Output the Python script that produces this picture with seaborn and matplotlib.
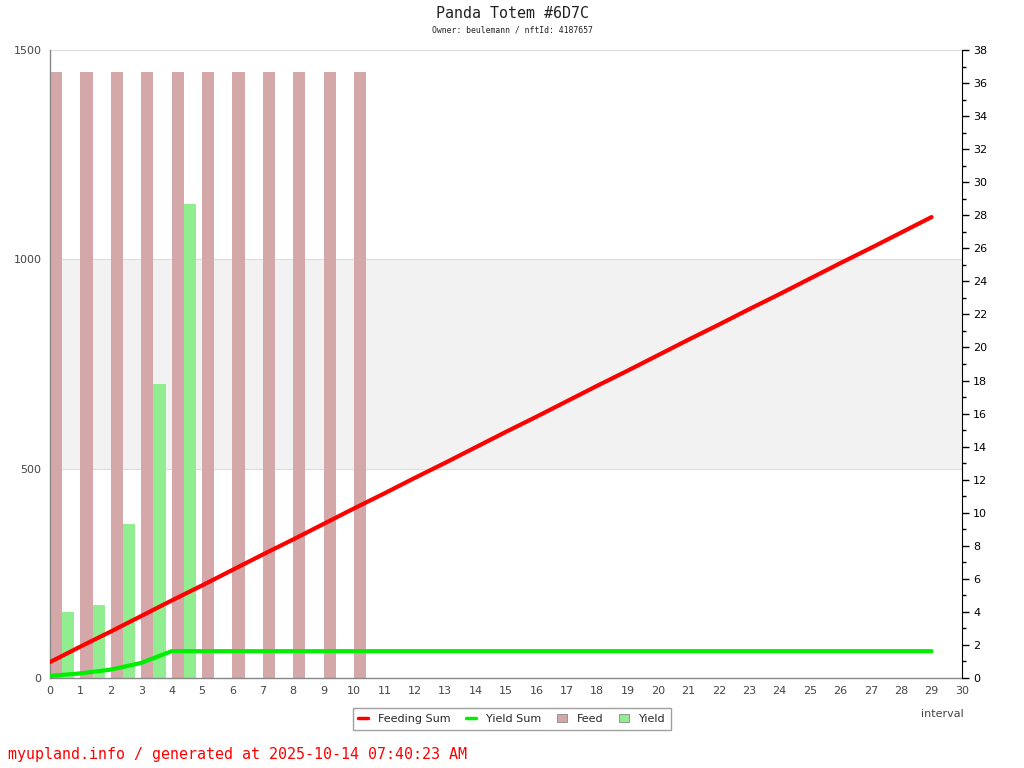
import matplotlib
matplotlib.use("Agg")
import matplotlib.pyplot as plt
import seaborn as sns
import numpy as np
import pandas as pd
from matplotlib.lines import Line2D
from matplotlib.patches import Patch

# data
intervals = list(range(30))
feeding_sum = [38, 75, 111, 148, 185, 221, 258, 295, 331, 368, 405, 441, 478, 514, 551,
               588, 624, 661, 698, 734, 771, 808, 844, 881, 917, 954, 991, 1027, 1064, 1101]
yield_sum = [5, 11, 20, 36, 64] + [64] * 25
feed_x = list(range(11))
feed = [1447] * 11
yield_x = [0, 1, 2, 3, 4]
yield_vals = [158, 174, 368, 702, 1132]

sns.set_style("white")
plt.rcParams['font.family'] = ['DejaVu Sans']

fig = plt.figure(figsize=(10.24, 7.68), dpi=100)
ax = fig.add_axes([50 / 1024, 1 - 678 / 768, 912 / 1024, 628 / 768])

# band 500..1000
ax.axhspan(500, 1000, color="#f2f2f2", zorder=0, lw=0)
for yv in (500, 1000, 1500):
    ax.axhline(yv, color="#dddddd", lw=0.8, zorder=0.5)

ax.bar(feed_x, feed, width=0.4, align="edge", color="#d4a8a8", lw=0, zorder=1)
ax.bar(np.array(yield_x) + 0.4, yield_vals, width=0.4, align="edge", color="#90ee90", lw=0, zorder=1)

df = pd.DataFrame({"interval": intervals, "Feeding Sum": feeding_sum, "Yield Sum": yield_sum})
sns.lineplot(data=df, x="interval", y="Feeding Sum", color="#ff0000", lw=3, ax=ax, zorder=3)
sns.lineplot(data=df, x="interval", y="Yield Sum", color="#00ee00", lw=3, ax=ax, zorder=3)

ax.set_xlim(0, 30)
ax.set_ylim(0, 1500)
ax.set_xticks(range(31))
ax.set_yticks([0, 500, 1000, 1500])
ax.tick_params(axis="both", length=0, labelsize=8, labelcolor="#444444", pad=6)
ax.set_ylabel("")
ax.set_xlabel("")
for s in ("top", "right"):
    ax.spines[s].set_visible(False)
for s in ("left", "bottom"):
    ax.spines[s].set_color("#888888")
    ax.spines[s].set_linewidth(1)

ax2 = ax.twinx()
ax2.set_ylim(0, 38)
ax2.set_yticks(range(0, 39, 2))
ax2.set_yticks(range(1, 38, 2), minor=True)
ax2.tick_params(axis="y", which="major", length=5, width=1, labelsize=8, colors="black", pad=3)
ax2.tick_params(axis="y", which="minor", length=3, width=1, colors="black")
for s in ("top", "left", "bottom"):
    ax2.spines[s].set_visible(False)
ax2.spines["right"].set_color("black")

fig.text(942 / 1024, 1 - 714 / 768, "interval", ha="center", va="center", fontsize=8, color="#444444")

handles = [Line2D([], [], color="#ff0000", lw=2.5),
           Line2D([], [], color="#00ee00", lw=2.5),
           Patch(facecolor="#d4a8a8", edgecolor="#888888", lw=0.6),
           Patch(facecolor="#90ee90", edgecolor="#888888", lw=0.6)]
leg = fig.legend(handles, ["Feeding Sum", "Yield Sum", "Feed", "Yield"], loc="center",
                 bbox_to_anchor=(512 / 1024, 1 - 719 / 768), ncol=4, fontsize=8,
                 frameon=True, fancybox=False, handlelength=0.9, handleheight=0.8,
                 columnspacing=1.4, handletextpad=0.9, borderpad=0.5)
leg.get_frame().set_edgecolor("#888888")
leg.get_frame().set_linewidth(1)

fig.text(0.5, 1 - 14 / 768, "Panda Totem #6D7C", ha="center", va="center",
         fontsize=10.8, family="DejaVu Sans Mono", color="#222222")
fig.text(0.5, 1 - 30 / 768, "Owner: beulemann / nftId: 4187657", ha="center", va="center",
         fontsize=5.9, family="DejaVu Sans Mono", color="#222222")
fig.text(8 / 1024, 1 - 754 / 768, "myupland.info / generated at 2025-10-14 07:40:23 AM",
         ha="left", va="center", fontsize=10.8, family="DejaVu Sans Mono", color="#ff0000")

fig.savefig("out.png", dpi=100)
